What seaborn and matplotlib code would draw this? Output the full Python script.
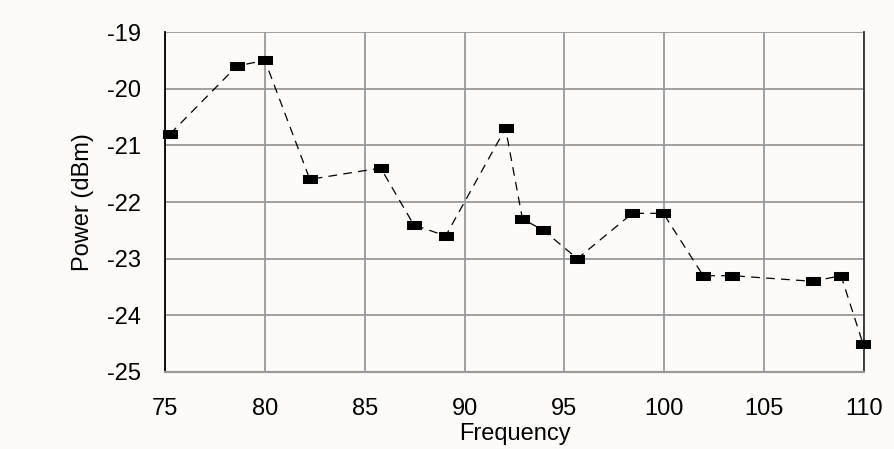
import numpy as np
import pandas as pd
import matplotlib
matplotlib.use("Agg")
import matplotlib.pyplot as plt
import seaborn as sns

# values
freq = [75.25, 78.6, 80.0, 82.25, 85.8, 87.45, 89.05, 92.05, 92.9, 93.95,
        95.65, 98.4, 99.95, 101.95, 103.4, 107.45, 108.85, 109.95]
power = [-20.8, -19.6, -19.5, -21.6, -21.4, -22.4, -22.6, -20.7, -22.3, -22.5,
         -23.0, -22.2, -22.2, -23.3, -23.3, -23.4, -23.3, -24.5]
x_ticks = [75, 80, 85, 90, 95, 100, 105, 110]
y_ticks = [-25, -24, -23, -22, -21, -20, -19]

df = pd.DataFrame({"Frequency": freq, "Power": power})

sns.set_style("white")
plt.rcParams['font.family'] = ['Liberation Sans', 'DejaVu Sans']
plt.rcParams['axes.unicode_minus'] = False

bg = '#fcfbfa'
fig = plt.figure(figsize=(8.94, 4.49), dpi=100, facecolor=bg)
ax = fig.add_axes([0.1846, 0.1715, 0.7818, 0.7572])
ax.set_facecolor(bg)

rect = [(-1, -0.5), (1, -0.5), (1, 0.5), (-1, 0.5), (-1, -0.5)]
sns.lineplot(data=df, x="Frequency", y="Power", ax=ax, color='black',
             linewidth=0.9, linestyle=(0, (7, 5)), marker=rect,
             markersize=10.5, markerfacecolor='black', markeredgecolor='black',
             sort=False, zorder=5, clip_on=False)

ax.set_xlim(75, 110)
ax.set_ylim(-25, -19)
ax.set_xticks(x_ticks)
ax.set_yticks(y_ticks)
ax.set_yticks(np.arange(-24.5, -19, 1.0), minor=True)
ax.grid(True, which='major', color='#999999', linewidth=1.3)
ax.set_axisbelow(True)

ax.spines['top'].set_visible(False)
ax.spines['left'].set_color('black')
ax.spines['left'].set_linewidth(1.3)
ax.spines['right'].set_color('#333333')
ax.spines['right'].set_linewidth(1.3)
ax.spines['bottom'].set_color('#999999')
ax.spines['bottom'].set_linewidth(1.6)

ax.tick_params(axis='y', which='major', direction='inout', length=14,
               width=1.0, color='#999999', labelsize=17, pad=10,
               labelcolor='black')
ax.tick_params(axis='y', which='minor', direction='inout', length=11,
               width=1.0, color='#999999')
ax.tick_params(axis='x', which='major', direction='out', length=5,
               width=1.0, color='#999999', labelsize=17, pad=14,
               labelcolor='black')

ax.set_xlabel("Frequency", fontsize=17, labelpad=2, color='black')
ax.set_ylabel("Power (dBm)", fontsize=17, labelpad=10, color='black')

fig.savefig("out.png", dpi=100, facecolor=bg)
